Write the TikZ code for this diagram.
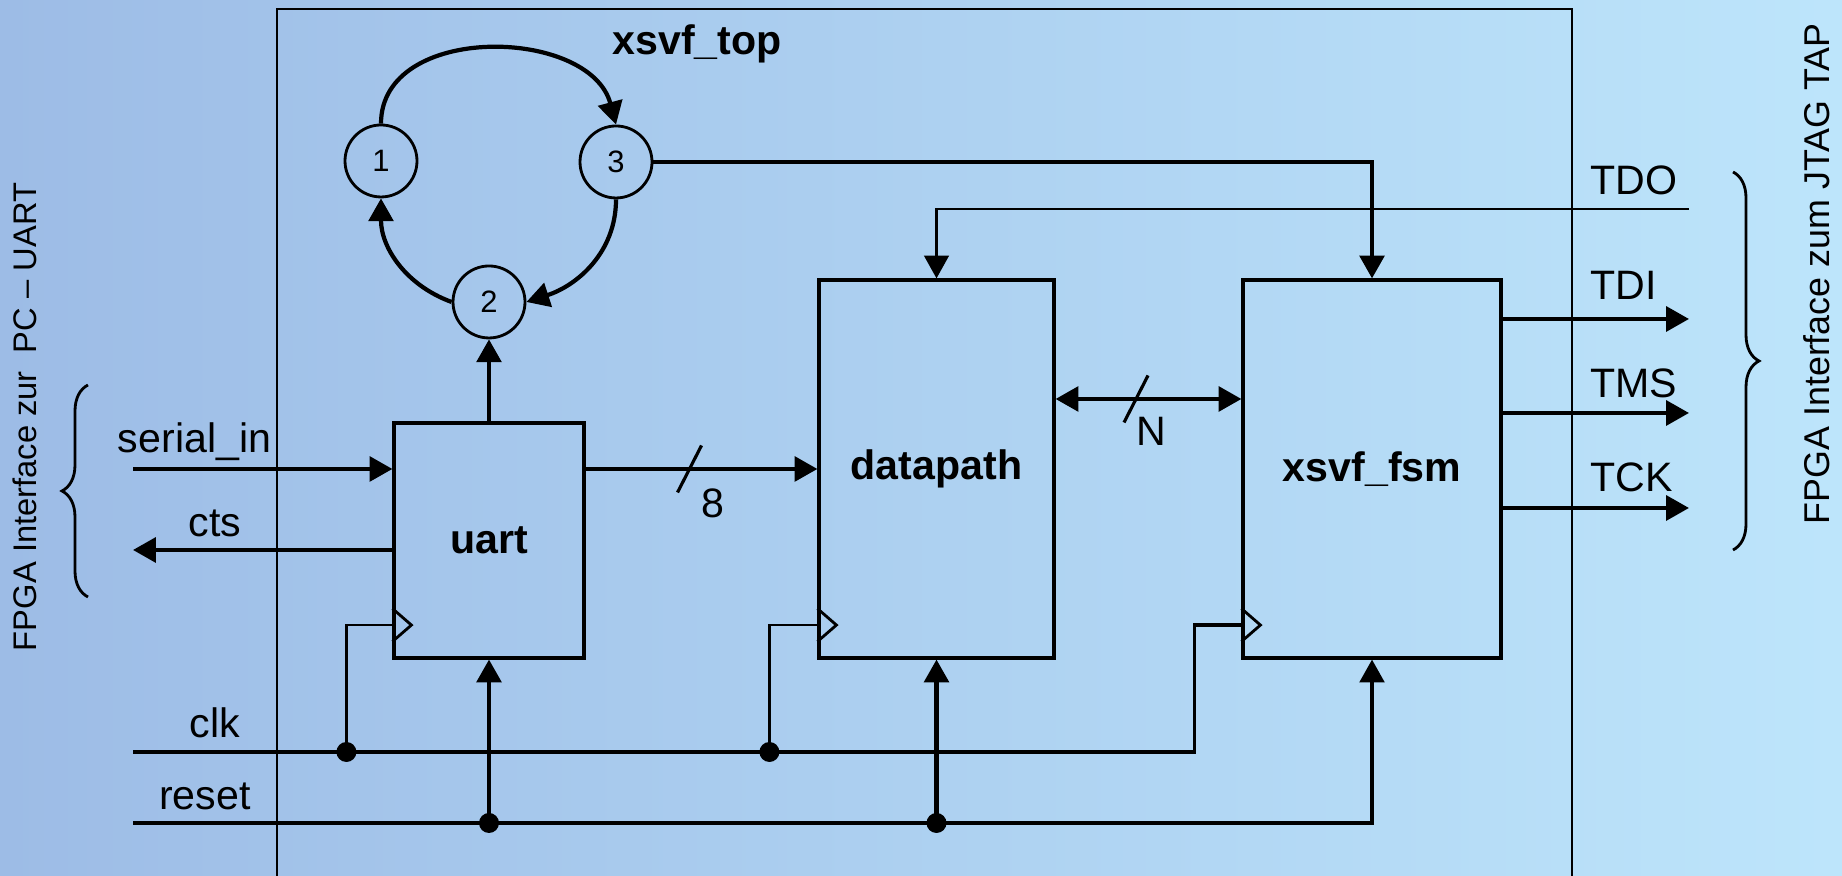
\documentclass[tikz,border=0pt]{standalone}
\usepackage{fontspec}
\setmainfont{Liberation Sans}
\usetikzlibrary{arrows.meta,positioning,calc,decorations.pathreplacing}
\definecolor{bgleft}{HTML}{9DBCE6}
\definecolor{bgright}{HTML}{BDE5FB}

\begin{document}
\begin{tikzpicture}[
  font=\fontsize{11.7}{14}\selectfont,
  >={Triangle[length=6.5pt,width=7pt]},
  blk/.style={rectangle, draw, line width=0.9pt, inner sep=0pt, font=\fontsize{11.7}{14}\selectfont\bfseries},
  state/.style={circle, draw, line width=0.8pt, minimum size=0.72cm, inner sep=0pt, font=\fontsize{8.8}{10}\selectfont},
  wire/.style={line width=1.2pt},
  ckwire/.style={line width=0.8pt},
  dot/.style={circle, fill, inner sep=0pt, minimum size=0.2cm},
  lbl/.style={anchor=base},
  slash/.style={line width=0.9pt},
  brc/.style={decorate, decoration={brace, amplitude=0.26cm}, line width=0.8pt},
]
  \useasboundingbox (0,0) rectangle (18.42,8.76);
  \fill[left color=bgleft, right color=bgright] (0,0) rectangle (18.42,8.76);
  \draw[line width=0.8pt] (2.77,0) |- (15.72,8.67) -- (15.72,0);
  \node[font=\fontsize{11.7}{14}\selectfont\bfseries, anchor=base] (ttop) at (6.97,8.21) {xsvf\_top};

  % state loop
  \node[state] (c1) at (3.81,7.15) {1};
  \node[state] (c3) at (6.16,7.14) {3};
  \node[state] (c2) at (4.89,5.74) {2};
  \draw[wire,->] (c1.north) to[out=90,in=105,looseness=1.1] (c3.north);
  \draw[wire,->] (c3.south) to[out=-90,in=18] (c2.east);
  \draw[wire,->] (c2.west) to[out=160,in=-90] (c1.south);

  % blocks
  \node[blk, minimum width=1.90cm, minimum height=2.35cm] (uart) at (4.89,3.355) {uart};
  \node[blk, minimum width=2.35cm, minimum height=3.78cm] (dp) at (9.365,4.07) {datapath};
  \node[blk, minimum width=2.58cm, minimum height=3.78cm] (fsm) at (13.72,4.07) {xsvf\_fsm};
  \foreach \b in {uart,dp,fsm}
    \draw[ckwire] ($(\b.south west)+(0,0.18)$) -- ++(0.19,0.165) -- ++(-0.19,0.165);

  % free ends
  \coordinate (sin) at (1.33,4.07);
  \coordinate (cts) at (1.33,3.26);
  \coordinate (ckin) at (1.33,1.24);
  \coordinate (rstin) at (1.33,0.53);
  \coordinate (tdo) at (16.89,6.67);
  \coordinate (tdi) at (16.89,5.57);
  \coordinate (tms) at (16.89,4.63);
  \coordinate (tck) at (16.89,3.68);

  \draw[wire,->] (sin) -- (sin -| uart.west);
  \draw[wire,->] (cts -| uart.west) -- (cts);
  \draw[wire,->] (sin -| uart.east) -- (sin -| dp.west);
  \draw[wire,->] (uart.north) -- (c2.south);
  \draw[wire,<->] ($(dp.east)+(0,0.7)$) -- ($(fsm.west)+(0,0.7)$);
  \draw[wire,->] (c3.east) -| (fsm.north);
  \draw[ckwire,->] (tdo) -| (dp.north);
  \foreach \p in {tdi,tms,tck}
    \draw[wire,->] (\p -| fsm.east) -- (\p);

  \draw[slash] (6.775,3.835) -- (7.015,4.305);
  \draw[slash] (11.24,4.535) -- (11.48,5.005);
  \node (lw8) at (7.13,3.73) {8};
  \node (lwn) at (11.51,4.45) {N};

  % clock and reset
  \node[dot] (ck1) at ($(ckin -| uart.west)+(-0.46,0)$) {};
  \node[dot] (ck2) at ($(ckin -| dp.west)+(-0.48,0)$) {};
  \draw[line width=1pt] (ckin) -| ($(fsm.south west)+(-0.47,0.345)$) -- ($(fsm.south west)+(0,0.345)$);
  \draw[ckwire] (ck1.center) |- ($(uart.south west)+(0,0.345)$);
  \draw[ckwire] (ck2.center) |- ($(dp.south west)+(0,0.345)$);
  \node[dot] (rs1) at (rstin -| uart.south) {};
  \node[dot] (rs2) at (rstin -| dp.south) {};
  \draw[line width=1pt,->] (rstin) -| (fsm.south);
  \draw[wire,->] (rs1.center) -- (uart.south);
  \draw[wire,->] (rs2.center) -- (dp.south);

  % labels
  \node[lbl] (lsin) at (1.945,4.23) {serial\_in};
  \node[lbl] (lcts) at (2.15,3.39) {cts};
  \node[lbl] (lclk) at (2.15,1.38) {clk};
  \node[lbl] (lrst) at (2.05,0.66) {reset};
  \node[lbl, anchor=base west] (ltdo) at (15.78,6.81) {TDO};
  \node[lbl, anchor=base west] (ltdi) at (15.78,5.76) {TDI};
  \node[lbl, anchor=base west] (ltms) at (15.78,4.78) {TMS};
  \node[lbl, anchor=base west] (ltck) at (15.78,3.84) {TCK};

  % interfaces
  \draw[brc] (0.88,2.79) -- (0.88,4.91);
  \draw[brc] (17.33,7.04) -- (17.33,3.26);
  \node[rotate=90, font=\fontsize{9.3}{11}\selectfont] (lpc) at (0.25,4.59) {FPGA Interface zur\ \ PC \textendash\ UART};
  \node[rotate=90, font=\fontsize{10.2}{12}\selectfont] (ljtag) at (18.17,6.02) {FPGA Interface zum JTAG TAP};
\end{tikzpicture}
\end{document}
